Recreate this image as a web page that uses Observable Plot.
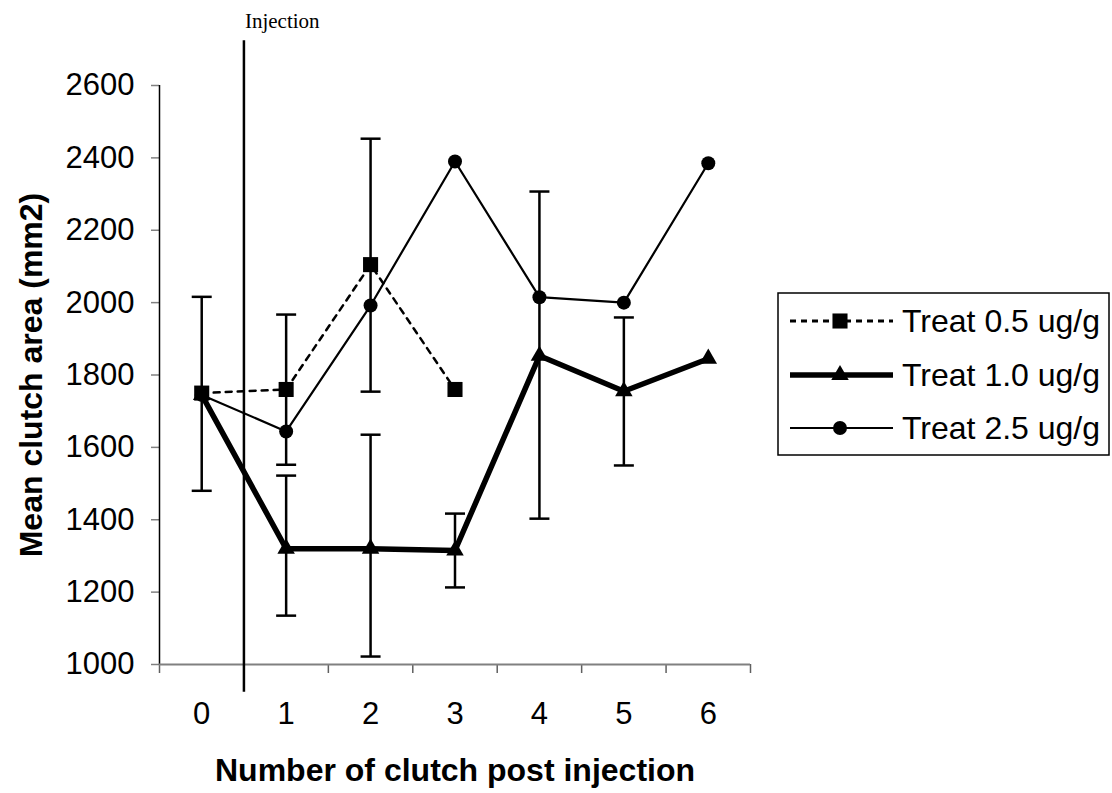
<!DOCTYPE html>
<html>
<head>
<meta charset="utf-8">
<script src="https://cdn.jsdelivr.net/npm/d3@7"></script>
<script src="https://cdn.jsdelivr.net/npm/@observablehq/plot@0.6"></script>
<style>
  html, body { margin: 0; padding: 0; background: white; }
  #chart { width: 1112px; height: 793px; }
</style>
</head>
<body>
<div id="chart"></div>
<script>
// ---- data ----
const clutch = [0, 1, 2, 3, 4, 5, 6];
const treat05 = [1750, 1760, 2105, 1760, null, null, null];
const treat10 = [1745, 1320, 1320, 1315, 1853, 1755, 1845];
const treat25 = [1745, 1644, 1992, 2390, 2015, 2000, 2385];

const errX    = [0, 1, 1, 2, 2, 3, 4, 5];
const errLow  = [1480, 1552, 1135, 1754, 1022, 1213, 1403, 1550];
const errHigh = [2016, 1967, 1522, 2453, 1635, 1417, 2307, 1959];

const yTicks = [1000, 1200, 1400, 1600, 1800, 2000, 2200, 2400, 2600];
const xTickMarks = [-0.5, 0.5, 1.5, 2.5, 3.5, 4.5, 5.5, 6.5];
const xDomain = [-0.5, 6.5];
const yDomain = [1000, 2600];

const injectionX = 0.5;
const injectionY1 = 923;
const injectionY2 = 2724;
const injectionLabel = "Injection";

const seriesNames = ["Treat 0.5 ug/g", "Treat 1.0 ug/g", "Treat 2.5 ug/g"];
const xTitle = "Number of clutch post injection";
const yTitle = "Mean clutch area (mm2)";

// ---- tables ----
const mk = (vals) => clutch.map((c, i) => ({x: c, y: vals[i]})).filter(d => d.y != null);
const s05 = mk(treat05), s10 = mk(treat10), s25 = mk(treat25);
const errs = errX.map((x, i) => ({x, lo: errLow[i], hi: errHigh[i]}));

const capSymbol = {
  draw(ctx) { ctx.moveTo(-10, 0); ctx.lineTo(10, 0); }
};

const font = "'Liberation Sans', Arial, sans-serif";

const plot = Plot.plot({
  width: 1112,
  height: 793,
  marginLeft: 159,
  marginRight: 362,
  marginTop: 85,
  marginBottom: 129,
  style: {fontFamily: font, background: "white", overflow: "visible", color: "black"},
  x: {type: "linear", domain: xDomain},
  y: {type: "linear", domain: yDomain},
  marks: [
    // axes
    Plot.axisY({ticks: yTicks, tickSize: 8, tickPadding: 17, fontSize: 31, stroke: "#808080", strokeWidth: 1.5, fill: "black", label: null, tickFormat: d => String(d)}),
    Plot.axisX({ticks: xTickMarks, tickSize: 9, tickFormat: () => "", label: null, stroke: "#606060", strokeWidth: 1.5}),
    Plot.axisX({ticks: clutch, tickSize: 0, tickPadding: 37, fontSize: 31, fill: "black", label: null, tickFormat: d => String(d)}),
    Plot.ruleX([xDomain[0]], {y1: yDomain[0], y2: yDomain[1], stroke: "black", strokeWidth: 1.5}),
    Plot.ruleY([yDomain[0]], {x1: xDomain[0], x2: xDomain[1], stroke: "#808080", strokeWidth: 2}),
    // titles
    Plot.text([yTitle], {frameAnchor: "left", textAnchor: "middle", rotate: -90, dx: -128, fontSize: 32, fontWeight: "bold", fill: "black"}),
    Plot.text([xTitle], {frameAnchor: "bottom", textAnchor: "middle", dy: 106, fontSize: 32, fontWeight: "bold", fill: "black", lineAnchor: "middle"}),
    // injection
    Plot.ruleX([injectionX], {y1: injectionY1, y2: injectionY2, stroke: "black", strokeWidth: 2.5}),
    Plot.text([injectionLabel], {x: injectionX, y: injectionY2, dy: -13, dx: 1, textAnchor: "start", lineAnchor: "bottom", fontSize: 21, fontFamily: "'Liberation Serif', 'Times New Roman', serif", fill: "black"}),
    // error bars
    Plot.ruleX(errs, {x: "x", y1: "lo", y2: "hi", stroke: "black", strokeWidth: 2.5}),
    Plot.dot(errs, {x: "x", y: "lo", symbol: capSymbol, stroke: "black", strokeWidth: 2.5, fill: "none"}),
    Plot.dot(errs, {x: "x", y: "hi", symbol: capSymbol, stroke: "black", strokeWidth: 2.5, fill: "none"}),
    // lines
    Plot.line(s05, {x: "x", y: "y", stroke: "black", strokeWidth: 2.5, strokeDasharray: "6,6"}),
    Plot.line(s25, {x: "x", y: "y", stroke: "black", strokeWidth: 2.2}),
    Plot.line(s10, {x: "x", y: "y", stroke: "black", strokeWidth: 5.5}),
    // markers
    Plot.dot(s05, {x: "x", y: "y", symbol: "square", r: 8.5, fill: "black", stroke: "none"}),
    Plot.dot(s25, {x: "x", y: "y", symbol: "circle", r: 7, fill: "black", stroke: "none"}),
    Plot.dot(s10, {x: "x", y: "y", symbol: "triangle", r: 6.5, fill: "black", stroke: "none"})
  ]
});

document.getElementById("chart").appendChild(plot);

// ---- legend (drawn into the same svg) ----
const svg = d3.select(plot);
const lg = svg.append("g").attr("font-family", font).attr("text-anchor", "start");
lg.append("rect").attr("x", 778).attr("y", 293).attr("width", 331).attr("height", 162)
  .attr("fill", "white").attr("stroke", "black").attr("stroke-width", 1.5);
const rowY = [321, 375, 428];
const dashes = ["6,5", null, null];
const widths = [3, 5.5, 2.2];
const syms = [d3.symbolSquare, d3.symbolTriangle, d3.symbolCircle];
const symSizes = [Math.PI * 8.5 * 8.5, Math.PI * 6.5 * 6.5, Math.PI * 7 * 7];
seriesNames.forEach((name, i) => {
  const y = rowY[i];
  const ln = lg.append("line").attr("x1", 790).attr("x2", 893).attr("y1", y).attr("y2", y)
    .attr("stroke", "black").attr("stroke-width", widths[i]);
  if (dashes[i]) ln.attr("stroke-dasharray", dashes[i]);
  lg.append("path").attr("d", d3.symbol(syms[i], symSizes[i])()).attr("transform", `translate(840,${y})`).attr("fill", "black");
  lg.append("text").attr("x", 902).attr("y", y + 11).attr("font-size", 32).attr("fill", "black")
    .attr("text-anchor", "start").text(name);
});
</script>
</body>
</html>
